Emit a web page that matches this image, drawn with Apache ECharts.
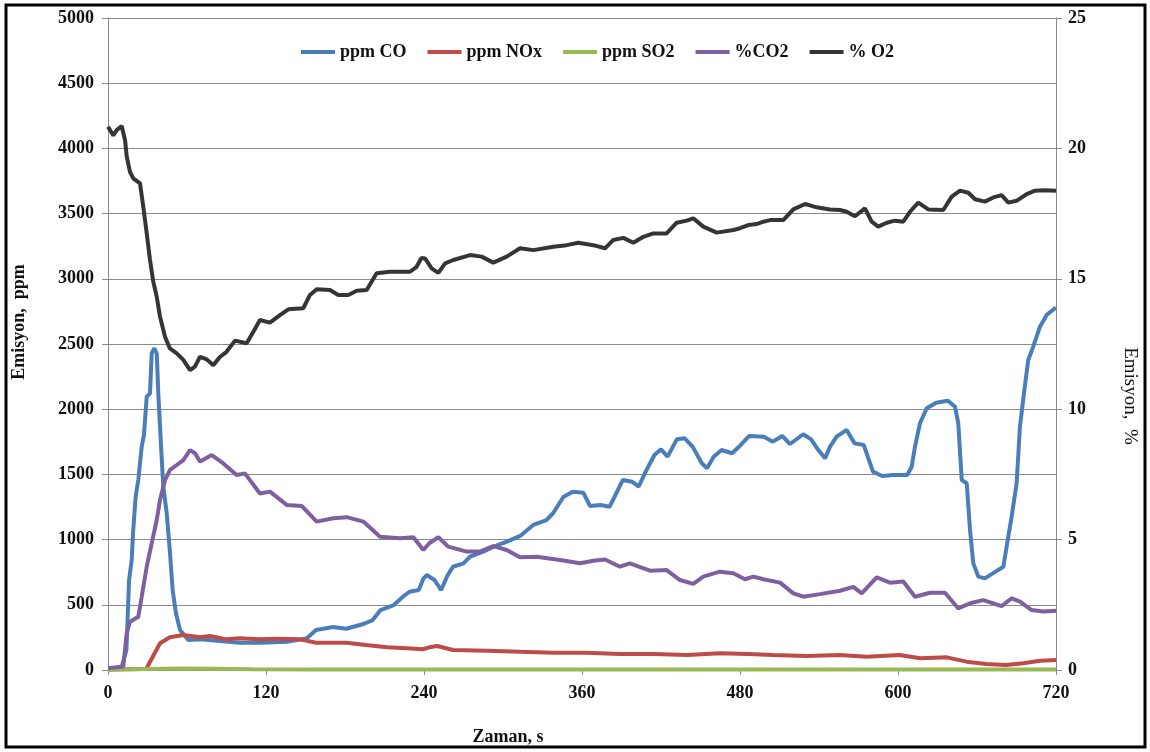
<!DOCTYPE html>
<html>
<head>
<meta charset="utf-8">
<script src="https://cdn.jsdelivr.net/npm/echarts@6/dist/echarts.min.js"></script>
<style>
  html, body { margin: 0; padding: 0; background: #fff; }
  #chart { width: 1150px; height: 752px; }
</style>
</head>
<body>
<div id="chart"></div>
<script>
// Emission measurements over time: [seconds, value]
const coPpm = [[0,5],[10,10],[14,153],[16,690],[18,844],[19,1048],[21,1329],[23,1457],[25.6,1713],[27.3,1802],[29.4,2096],[31.9,2122],[33.2,2429],[35.2,2467],[37,2429],[38.2,2122],[40.3,1713],[42,1406],[44.6,1202],[47.1,895],[49.1,614],[51.6,435],[54.7,307],[61,230],[70,235],[83,225],[100,209],[115,209],[136,217],[151,243],[158,307],[171,330],[181,316],[194,353],[201,383],[207,460],[217,498],[224,562],[229,600],[236,613],[239.5,700],[242,728],[248,690],[253,613],[258,728],[262,792],[270,818],[275,869],[285,907],[293,946],[303,984],[313,1028],[323,1112],[333,1150],[338,1202],[346,1329],[353,1367],[361,1360],[366,1258],[374,1265],[381,1252],[386,1355],[391,1457],[398,1444],[403,1406],[409,1534],[415,1649],[420,1692],[425,1636],[432,1769],[438,1777],[444,1713],[451,1585],[455,1547],[460,1636],[466,1687],[474,1662],[480,1720],[487,1795],[498,1789],[505,1751],[512,1795],[518,1733],[528,1808],[534,1769],[539.5,1687],[544.6,1623],[548.4,1713],[553.4,1789],[561,1841],[567,1738],[574,1726],[577.5,1623],[581,1521],[588,1488],[596,1495],[607,1495],[610.4,1559],[612.9,1713],[616.7,1892],[621.8,2007],[629,2050],[638,2065],[643.3,2019],[645.8,1892],[648.4,1457],[652.2,1432],[654.7,1074],[657.2,818],[661,716],[666,703],[672,741],[680,792],[682.5,946],[686.3,1176],[690.1,1432],[692.6,1866],[695.7,2122],[698.9,2377],[702.7,2480],[707.8,2633],[712.9,2723],[720,2780]];

const noxPpm = [[0,5],[29,8],[34,102],[39.5,205],[47,251],[57,268],[70,251],[77.5,261],[90,235],[100,243],[115,235],[128,240],[146,235],[158,209],[171,209],[181,209],[196,192],[212,174],[227,166],[239,159],[244,174],[250,184],[262,153],[288,148],[313,140],[338,133],[363,133],[389,123],[414,123],[440,115],[465,128],[486,123],[505,115],[531,107],[556,115],[576,102],[601,115],[617,90],[637,97],[652,64],[667,46],[682,38],[695,51],[708,71],[720,77]];

const so2Ppm = [[0,0],[12,3],[30,8],[55,12],[80,10],[110,6],[160,4],[300,3],[720,3]];

const co2Pct = [[0,0.07],[11.6,0.13],[14.2,1.41],[16.7,1.85],[23,2.04],[25.6,2.81],[29.4,3.96],[33.2,4.86],[37,5.75],[39.5,6.52],[43.3,7.28],[47.1,7.67],[52.2,7.86],[57.2,8.05],[62.3,8.43],[66.1,8.31],[69.9,7.99],[78.8,8.24],[87.6,7.92],[97.7,7.48],[104,7.54],[115.4,6.77],[123,6.84],[135.7,6.33],[147.1,6.29],[158.5,5.69],[171.1,5.82],[181.3,5.86],[193.9,5.69],[206.6,5.11],[221.8,5.05],[231.9,5.09],[239.5,4.6],[244,4.86],[250.9,5.09],[258.4,4.73],[272.4,4.54],[282.5,4.54],[292.6,4.75],[302.8,4.6],[312.9,4.32],[325.6,4.34],[343.3,4.22],[358.5,4.09],[368.6,4.19],[377.5,4.24],[388.8,3.96],[396.4,4.09],[411.6,3.81],[424.3,3.83],[434.4,3.45],[444.5,3.3],[452.1,3.58],[464.7,3.77],[474.9,3.71],[483.8,3.48],[490.1,3.58],[497.7,3.48],[510.4,3.35],[520.5,2.94],[528.1,2.81],[540.7,2.91],[556,3.04],[566.1,3.19],[572.4,2.94],[583.8,3.55],[593.9,3.35],[604,3.39],[612.9,2.81],[624.3,2.96],[635.7,2.96],[645.8,2.36],[654.7,2.56],[664.8,2.68],[678.7,2.45],[686.3,2.75],[692.6,2.62],[701.5,2.3],[710.3,2.24],[720,2.27]];

const o2Pct = [[0,20.83],[4,20.5],[6.6,20.7],[10.4,20.86],[13,20.3],[14.2,19.7],[16.7,19.1],[19.2,18.85],[24.3,18.66],[26.8,17.76],[29.4,16.75],[31.9,15.72],[34.4,14.89],[37,14.31],[39.5,13.55],[43.3,12.78],[47,12.33],[52.2,12.14],[57.2,11.89],[62.3,11.5],[66,11.63],[69.9,12.01],[75,11.91],[80,11.69],[85,12.0],[90,12.2],[96.5,12.63],[105.3,12.53],[110.4,12.97],[115.4,13.42],[123,13.32],[130.6,13.61],[137,13.83],[148.3,13.87],[153.4,14.38],[158.5,14.6],[168.6,14.57],[174.9,14.38],[182.5,14.38],[188.9,14.54],[196.5,14.57],[204,15.21],[214,15.27],[229.4,15.27],[234.4,15.46],[238,15.8],[240.8,15.78],[245.8,15.4],[250.9,15.23],[256,15.59],[262.3,15.72],[275,15.91],[283.8,15.85],[292.6,15.62],[302.8,15.85],[312.9,16.17],[323,16.1],[338.2,16.23],[348.4,16.29],[357.2,16.38],[368.6,16.29],[377.5,16.17],[383.8,16.49],[391.4,16.57],[399,16.38],[406.6,16.61],[414.2,16.74],[424.3,16.74],[431.9,17.15],[439.5,17.23],[444.5,17.32],[452.1,17.0],[462.3,16.77],[475,16.87],[480,16.94],[486.3,17.06],[492.6,17.1],[497.7,17.19],[502.8,17.25],[512.9,17.25],[520.5,17.66],[529.4,17.87],[538.2,17.74],[548.3,17.66],[556,17.64],[561,17.57],[567.3,17.4],[574.9,17.7],[580,17.19],[585,17.0],[591.4,17.15],[597.7,17.23],[604,17.19],[609.1,17.57],[615.4,17.92],[623,17.66],[634.4,17.64],[640.8,18.15],[647.1,18.38],[653.4,18.3],[658.5,18.05],[666,17.96],[672.4,18.12],[678.7,18.21],[683.8,17.92],[690.1,17.99],[697.7,18.25],[704,18.38],[711.6,18.4],[720,18.38]];

const seriesNames = ['ppm CO', 'ppm NOx', 'ppm SO2', '%CO2', '% O2'];
const seriesColors = ['#4a7ebb', '#be4b48', '#98b954', '#7d60a0', '#353535'];
const xTitle = 'Zaman, s';
const yLeftTitle = 'Emisyon,  ppm';
const yRightTitle = 'Emisyon,  %';

const FONT = "'Liberation Serif', 'Times New Roman', serif";
const textStyle = { fontFamily: FONT, fontWeight: 'bold', fontSize: 18, color: '#111' };
const gridGray = '#8a8a8a';
const plainNumber = v => String(v);

const chart = echarts.init(document.getElementById('chart'), null, { renderer: 'canvas' });

function lineSeries(i, data, yAxisIndex) {
  return {
    name: seriesNames[i],
    type: 'line',
    yAxisIndex: yAxisIndex,
    data: data,
    showSymbol: false,
    symbol: 'none',
    smooth: false,
    lineStyle: { width: 4, color: seriesColors[i] },
    itemStyle: { color: seriesColors[i] },
    z: 2 + i,
    animation: false
  };
}

chart.setOption({
  backgroundColor: '#fff',
  animation: false,
  grid: { left: 108, right: 94, top: 18, bottom: 82, containLabel: false },
  legend: {
    data: seriesNames,
    left: 296,
    top: 38,
    icon: 'rect',
    itemWidth: 34,
    itemHeight: 4,
    itemGap: 21,
    textStyle: Object.assign({}, textStyle, { fontSize: 18, padding: [0, 0, 0, 0] })
  },
  xAxis: {
    type: 'value',
    min: 0,
    max: 720,
    interval: 120,
    axisLine: { show: true, onZero: false, lineStyle: { color: gridGray, width: 1 } },
    axisTick: { show: true, length: 5, lineStyle: { color: gridGray } },
    splitLine: { show: false },
    axisLabel: Object.assign({ margin: 14, formatter: plainNumber }, textStyle)
  },
  yAxis: [
    {
      type: 'value',
      min: 0,
      max: 5000,
      interval: 500,
      position: 'left',
      axisLine: { show: true, lineStyle: { color: gridGray, width: 1 } },
      axisTick: { show: true, length: 6, lineStyle: { color: gridGray } },
      splitLine: { show: true, lineStyle: { color: gridGray, width: 1 } },
      axisLabel: Object.assign({ margin: 14, formatter: plainNumber }, textStyle)
    },
    {
      type: 'value',
      min: 0,
      max: 25,
      interval: 5,
      position: 'right',
      axisLine: { show: true, lineStyle: { color: gridGray, width: 1 } },
      axisTick: { show: true, length: 6, lineStyle: { color: gridGray } },
      splitLine: { show: false },
      axisLabel: Object.assign({ margin: 12, formatter: plainNumber }, textStyle)
    }
  ],
  series: [
    lineSeries(0, coPpm, 0),
    lineSeries(1, noxPpm, 0),
    lineSeries(2, so2Ppm, 0),
    lineSeries(3, co2Pct, 1),
    lineSeries(4, o2Pct, 1)
  ],
  graphic: [
    {
      type: 'rect',
      shape: { x: 6, y: 5, width: 1139, height: 742 },
      style: { fill: 'none', stroke: '#000', lineWidth: 3 },
      z: 100,
      silent: true
    },
    {
      type: 'text',
      x: 508, y: 737,
      style: { text: xTitle, align: 'center', verticalAlign: 'middle', font: "bold 18px 'Liberation Serif', serif", fill: '#111' }
    },
    {
      type: 'text',
      x: 19, y: 322,
      rotation: Math.PI / 2,
      style: { text: yLeftTitle, align: 'center', verticalAlign: 'middle', font: "bold 18px 'Liberation Serif', serif", fill: '#111' }
    },
    {
      type: 'text',
      x: 1130, y: 396,
      rotation: -Math.PI / 2,
      style: { text: yRightTitle, align: 'center', verticalAlign: 'middle', font: "19px 'Liberation Serif', serif", fill: '#111' }
    }
  ]
});
</script>
</body>
</html>
